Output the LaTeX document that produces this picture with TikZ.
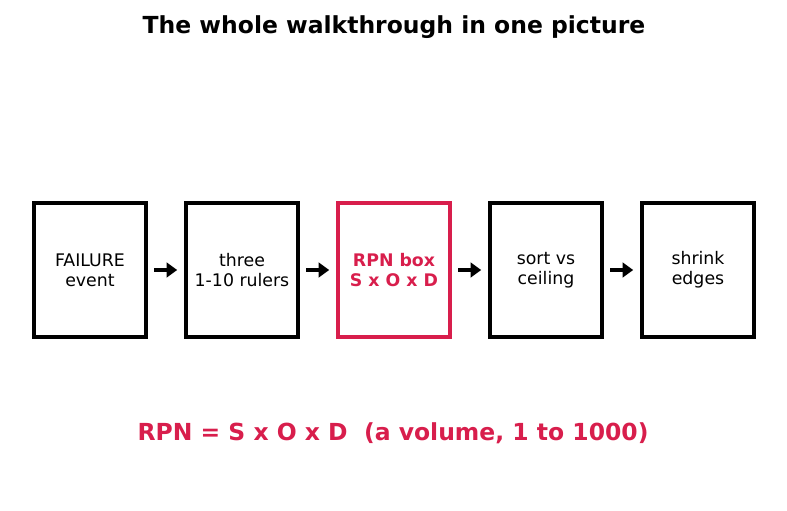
\documentclass[tikz,border=0pt]{standalone}
\usepackage{fontspec}
\setmainfont{DejaVu Sans}
\usetikzlibrary{arrows.meta,positioning}
\definecolor{rpnred}{RGB}{216,30,76}
\tikzset{
  stage/.style={draw=black, line width=3.2pt, minimum width=84pt, minimum height=100pt,
    inner sep=0pt, align=center, font=\fontsize{13}{15}\selectfont},
  hot/.style={stage, draw=rpnred, text=rpnred, font=\fontsize{13}{15}\selectfont\bfseries},
  flow/.style={line width=3.4pt, -{Triangle[length=8pt,width=11pt]}, shorten <=4.5pt, shorten >=5pt}
}
\begin{document}
\begin{tikzpicture}[x=0.75pt, y=-0.75pt]
  \useasboundingbox (0,0) rectangle (787,510);

  % title
  \node (title) at (394,27) {\fontsize{17.6}{20}\selectfont\bfseries The whole walkthrough in one picture};

  % the five stages
  \node[stage] (fail) at (90,270) {FAILURE\\event};
  \node[stage, right=114pt of fail.center, anchor=center] (rulers) {three\\1-10 rulers};
  \node[hot, right=114pt of rulers.center, anchor=center] (rpn) {RPN box\\S x O x D};
  \node[stage, right=114pt of rpn.center, anchor=center] (sort) {sort vs\\ceiling};
  \node[stage, right=114pt of sort.center, anchor=center] (shrink) {shrink\\edges};

  % arrows between them
  \draw[flow] (fail) -- (rulers);
  \draw[flow] (rulers) -- (rpn);
  \draw[flow] (rpn) -- (sort);
  \draw[flow] (sort) -- (shrink);

  % formula
  \node[text=rpnred] (formula) at (393,433) {\fontsize{17.6}{20}\selectfont\bfseries RPN = S x O x D~~(a volume, 1 to 1000)};
\end{tikzpicture}
\end{document}
